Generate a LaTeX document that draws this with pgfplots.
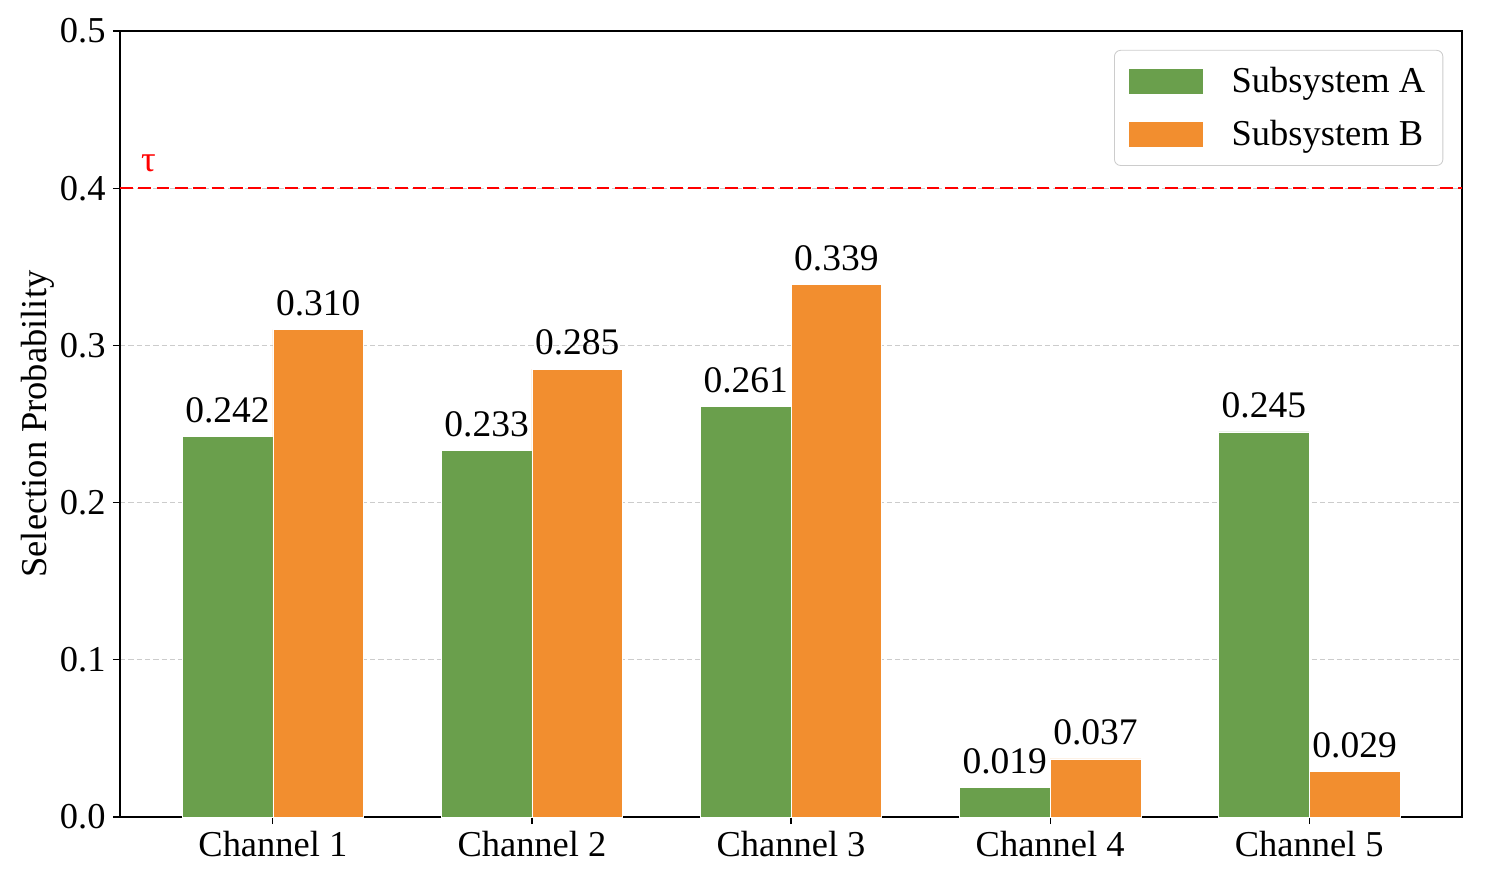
\documentclass[border=0pt]{standalone}
\usepackage{pgfplots}
\pgfplotsset{compat=1.18}
\usepackage{fontspec}
\setmainfont{Liberation Serif}
\definecolor{cA}{HTML}{6A9F4C}
\definecolor{cB}{HTML}{F28E2F}
\definecolor{gridc}{HTML}{CCCCCC}
\begin{document}
\begin{tikzpicture}
\begin{axis}[
  scale only axis,
  width=644.2pt, height=377.3pt,
  xmin=-0.59, xmax=4.59,
  ymin=0, ymax=0.5,
  xtick={0,1,2,3,4},
  xticklabels={Channel 1,Channel 2,Channel 3,Channel 4,Channel 5},
  ytick={0,0.1,0.2,0.3,0.4,0.5},
  yticklabel style={/pgf/number format/fixed,/pgf/number format/fixed zerofill,/pgf/number format/precision=1,/pgf/number format/assume math mode=true},
  tick label style={font=\fontsize{17.5}{21}\selectfont},
  tick align=outside,
  xtick pos=bottom, ytick pos=left,
  major tick length=3.4pt,
  tick style={black, line width=0.6pt},
  axis line style={black, line width=0.6pt},
  ymajorgrids,
  grid style={gridc, dash pattern=on 2.5pt off 1.5pt, line width=0.4pt},
  ylabel={Selection Probability},
  ylabel style={font=\fontsize{17.5}{21}\selectfont},
  ylabel shift=-4pt,
  ybar,
  bar width=0.35,
  nodes near coords,
  nodes near coords style={font=\fontsize{18}{21}\selectfont, yshift=3pt, /pgf/number format/fixed, /pgf/number format/fixed zerofill, /pgf/number format/precision=3, /pgf/number format/assume math mode=true},
  legend style={at={(0.986,0.976)}, anchor=north east, draw=gridc, rounded corners=3pt,
    font=\fontsize{17.5}{21}\selectfont, inner xsep=6.5pt, inner ysep=6pt, row sep=8pt},
  legend cell align=left,
  legend image code/.code={\fill[#1, sharp corners] (0pt,-6.2pt) rectangle (36pt,6.2pt);},
  legend style={/tikz/every odd column/.append style={column sep=11.5pt}},
]
\addplot[bar shift=-0.175, fill=cA, draw=white, line width=0.3pt] coordinates {(0,0.242) (1,0.233) (2,0.261) (3,0.019) (4,0.245)};
\addlegendentry{Subsystem A}
\addplot[bar shift=0.175, fill=cB, draw=white, line width=0.3pt] coordinates {(0,0.310) (1,0.285) (2,0.339) (3,0.037) (4,0.029)};
\addlegendentry{Subsystem B}
\draw[red, line width=1.1pt, dash pattern=on 6pt off 2.8pt] (axis cs:-0.59,0.4) -- (axis cs:4.59,0.4);
\node[red, anchor=south west, font=\fontsize{17.5}{21}\selectfont, inner sep=0pt] at (axis cs:-0.51,0.41) {τ};
\coordinate (SW) at (rel axis cs:0,0);
\coordinate (NE) at (rel axis cs:1,1);
\end{axis}
\pgfresetboundingbox
\useasboundingbox ([shift={(-57.6pt,-27.4pt)}]SW) rectangle ([shift={(11pt,14.9pt)}]NE);
\end{tikzpicture}
\end{document}
